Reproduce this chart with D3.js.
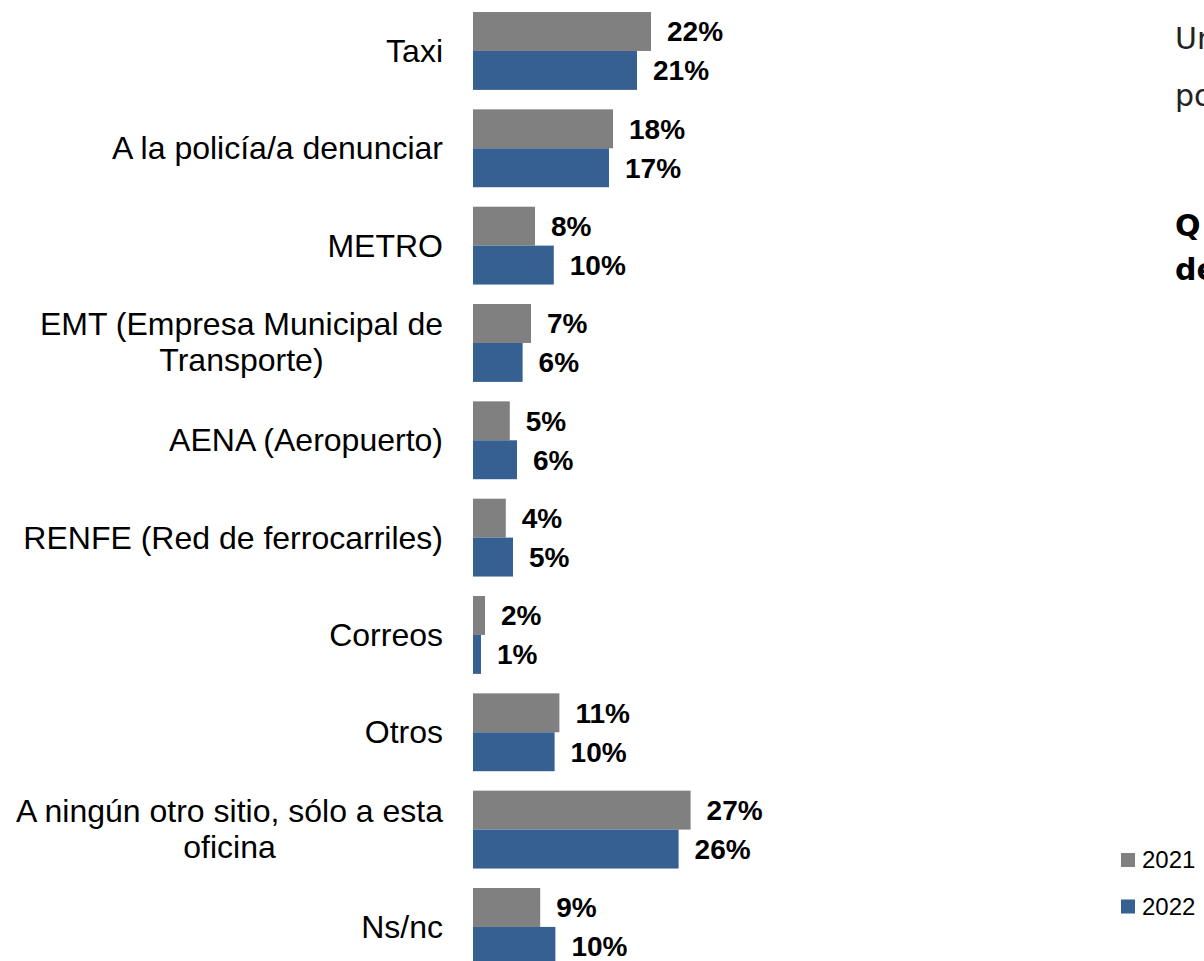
<!DOCTYPE html>
<html>
<head>
<meta charset="utf-8">
<script src="https://cdn.jsdelivr.net/npm/d3@7"></script>
<style>
  body { margin: 0; background: #fff; }
  svg { display: block; }
</style>
</head>
<body>
<script>
var categories = ["Taxi", "A la policía/a denunciar", "METRO", "EMT (Empresa Municipal de\nTransporte)",
    "AENA (Aeropuerto)", "RENFE (Red de ferrocarriles)", "Correos", "Otros",
    "A ningún otro sitio, sólo a esta\noficina", "Ns/nc"];
var years = ["2021", "2022"];
var values2021 = [22.25, 17.5, 7.75, 7.25, 4.6, 4.1, 1.5, 10.8, 27.2, 8.4];
var values2022 = [20.5, 17.0, 10.1, 6.2, 5.5, 5.0, 1.0, 10.2, 25.7, 10.3];
var labels2021 = ["22%", "18%", "8%", "7%", "5%", "4%", "2%", "11%", "27%", "9%"];
var labels2022 = ["21%", "17%", "10%", "6%", "6%", "5%", "1%", "10%", "26%", "10%"];
var sideLines = [["Un", false], ["po", false], ["Q", true], ["de", true]];

var width = 1204,
    height = 961;

var color = d3.scaleOrdinal()
    .domain(years)
    .range(["#808080", "#376092"]);

var x = d3.scaleLinear()
    .domain([0, 30])
    .range([473, 713]);

var y = d3.scaleBand()
    .domain(categories)
    .range([2.3, 975.6])
    .paddingInner(0.2)
    .paddingOuter(0.1);

var y1 = d3.scaleBand()
    .domain(years)
    .range([0, y.bandwidth()]);

var series = {"2021": values2021, "2022": values2022};
var seriesLabels = {"2021": labels2021, "2022": labels2022};

var svg = d3.select("body").append("svg")
    .attr("width", width)
    .attr("height", height);

var g = svg.selectAll(".group")
    .data(categories)
  .enter().append("g")
    .attr("class", "group")
    .attr("transform", function(d) { return "translate(0," + y(d) + ")"; });

years.forEach(function(yr) {
  g.append("rect")
      .attr("x", x(0))
      .attr("y", y1(yr))
      .attr("width", function(d, i) { return x(series[yr][i]) - x(0); })
      .attr("height", y1.bandwidth())
      .style("fill", color(yr));

  g.append("text")
      .attr("x", function(d, i) { return x(series[yr][i]) + 16; })
      .attr("y", y1(yr) + y1.bandwidth() / 2)
      .attr("dy", ".35em")
      .style("font-family", "'Liberation Sans', Arial, sans-serif")
      .style("font-size", "28px")
      .style("font-weight", "bold")
      .style("fill", "#000")
      .text(function(d, i) { return seriesLabels[yr][i]; });
});

// category labels, multi-line ones centred as a block against the right edge
var labelRight = 443;
g.each(function(d) {
  var lines = d.split("\n");
  var t = d3.select(this).append("text")
      .style("font-family", "'Liberation Sans', Arial, sans-serif")
      .style("font-size", "32px")
      .style("fill", "#000");
  var mid = y.bandwidth() / 2;
  var spans = lines.map(function(line, k) {
    var off = lines.length > 1 ? (k - (lines.length - 1) / 2) * 36.5 - 1 : 0;
    return t.append("tspan")
        .attr("y", mid + off)
        .attr("dy", ".35em")
        .text(line);
  });
  if (lines.length === 1) {
    spans[0].attr("x", labelRight).attr("text-anchor", "end");
  } else {
    var maxW = d3.max(spans, function(s) { return s.node().getComputedTextLength(); });
    spans.forEach(function(s) {
      s.attr("x", labelRight - maxW / 2).attr("text-anchor", "middle");
    });
  }
});

// text cut off at the right edge
var sideY = [49, 106, 236, 280];
svg.selectAll(".side")
    .data(sideLines)
  .enter().append("text")
    .attr("class", "side")
    .attr("x", 1175)
    .attr("y", function(d, i) { return sideY[i]; })
    .style("font-family", "'DejaVu Sans', sans-serif")
    .style("font-size", "30px")
    .style("font-weight", function(d) { return d[1] ? "bold" : "normal"; })
    .style("fill", function(d) { return d[1] ? "#000" : "#222"; })
    .text(function(d) { return d[0]; });

// legend
var legend = svg.selectAll(".legend")
    .data(years)
  .enter().append("g")
    .attr("class", "legend")
    .attr("transform", function(d, i) { return "translate(1121," + (853 + i * 46.5) + ")"; });

legend.append("rect")
    .attr("width", 14)
    .attr("height", 14)
    .style("fill", function(d) { return color(d); });

legend.append("text")
    .attr("x", 21)
    .attr("y", 7)
    .attr("dy", ".35em")
    .style("font-family", "'Liberation Sans', Arial, sans-serif")
    .style("font-size", "24px")
    .style("fill", "#000")
    .text(function(d) { return d; });
</script>
</body>
</html>
